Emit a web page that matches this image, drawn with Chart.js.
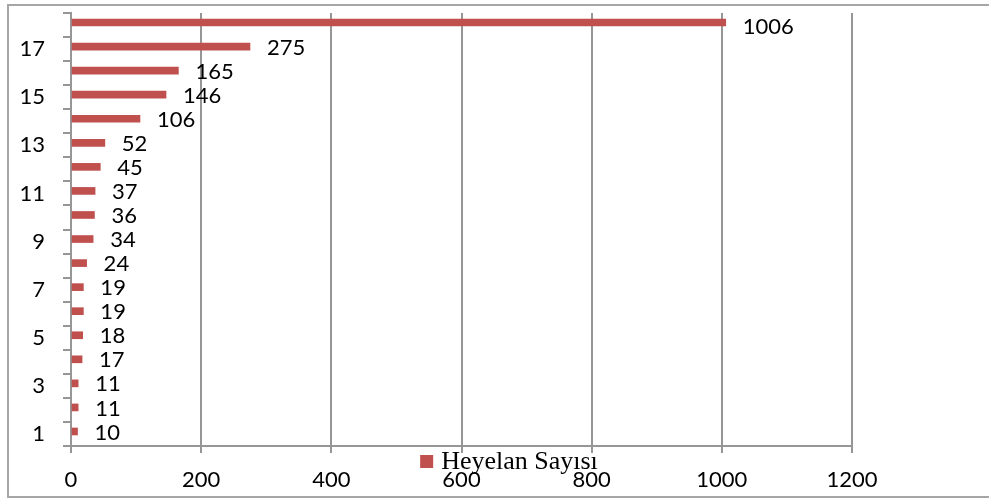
<!DOCTYPE html>
<html>
<head>
<meta charset="utf-8">
<script src="https://cdn.jsdelivr.net/npm/chart.js@4/dist/chart.umd.min.js"></script>
<style>
  html, body { margin: 0; padding: 0; background: #fff; }
  canvas { display: block; }
</style>
</head>
<body>
<canvas id="c" width="989" height="500"></canvas>
<script>
// Landslide counts per class (1..18)
const categories = ['1','2','3','4','5','6','7','8','9','10','11','12','13','14','15','16','17','18'];
const heyelanSayisi = [10, 11, 11, 17, 18, 19, 19, 24, 34, 36, 37, 45, 52, 106, 146, 165, 275, 1006];
const seriesName = 'Heyelan Sayısı';
const xTicks = [0, 200, 400, 600, 800, 1000, 1200];

const BAR_COLOR = '#C0504D';
const GRID_COLOR = '#969696';
const LABEL_FONT = { family: 'Lato, "Open Sans", sans-serif', size: 22 };

// Outer frame around the whole chart
const framePlugin = {
  id: 'frame',
  beforeDraw(chart) {
    const ctx = chart.ctx;
    ctx.save();
    ctx.fillStyle = '#fff';
    ctx.fillRect(0, 0, chart.width, chart.height);
    ctx.strokeStyle = '#a6a6a6';
    ctx.lineWidth = 2;
    ctx.strokeRect(8, 5, chart.width + 10, chart.height - 8);
    ctx.restore();
  }
};

// Bars sit slightly above the middle of their category band
const barShift = {
  id: 'barShift',
  afterDatasetsUpdate(chart) {
    chart.getDatasetMeta(0).data.forEach(el => { el.y -= 2.5; });
  }
};

// Value labels to the right of each bar, kept inside the plot area
const valueLabels = {
  id: 'valueLabels',
  afterDatasetsDraw(chart) {
    const ctx = chart.ctx;
    const meta = chart.getDatasetMeta(0);
    const halfBox = 14;
    ctx.save();
    ctx.font = `${LABEL_FONT.size}px ${LABEL_FONT.family}`;
    ctx.fillStyle = '#000';
    ctx.textAlign = 'left';
    ctx.textBaseline = 'middle';
    meta.data.forEach((el, i) => {
      const y = Math.max(el.y + 1, chart.chartArea.top + halfBox);
      ctx.fillText(String(heyelanSayisi[i]), el.x + 17, y);
    });
    ctx.restore();
  }
};

// Legend entry drawn over the bottom axis area
const legendEntry = {
  id: 'legendEntry',
  afterDraw(chart) {
    const ctx = chart.ctx;
    ctx.save();
    ctx.font = '26px "Liberation Serif", "DejaVu Serif", serif';
    const tw = ctx.measureText(seriesName).width;
    const box = 13, gap = 8;
    const total = box + gap + tw;
    const x0 = 509 - total / 2;
    const baseline = 469;
    ctx.fillStyle = BAR_COLOR;
    ctx.fillRect(x0, baseline - 14, box, box);
    ctx.fillStyle = '#000';
    ctx.textAlign = 'left';
    ctx.textBaseline = 'alphabetic';
    ctx.fillText(seriesName, x0 + box + gap, baseline);
    ctx.restore();
  }
};

new Chart(document.getElementById('c'), {
  type: 'bar',
  data: {
    labels: categories,
    datasets: [{
      label: seriesName,
      data: heyelanSayisi,
      backgroundColor: BAR_COLOR,
      borderWidth: 0,
      barThickness: 7
    }]
  },
  options: {
    indexAxis: 'y',
    responsive: false,
    animation: false,
    devicePixelRatio: 1,
    layout: { padding: { left: 0, top: 13, right: 137, bottom: 0 } },
    plugins: {
      legend: { display: false },
      tooltip: { enabled: false }
    },
    scales: {
      x: {
        min: 0,
        max: 1200,
        afterFit(scale) {
          scale.height = 54;
          scale.paddingLeft = 0;
          scale.paddingRight = 0;
        },
        afterBuildTicks(scale) { scale.ticks = xTicks.map(v => ({ value: v })); },
        grid: {
          color: GRID_COLOR,
          lineWidth: 2,
          drawOnChartArea: true,
          drawTicks: true,
          tickLength: 7,
          tickColor: GRID_COLOR
        },
        border: { display: true, color: GRID_COLOR, width: 2 },
        ticks: {
          color: '#000',
          font: LABEL_FONT,
          padding: 14,
          maxRotation: 0,
          callback(value) { return String(value); }
        }
      },
      y: {
        reverse: true,
        afterFit(scale) {
          scale.width = 71;
          scale.paddingTop = 0;
          scale.paddingBottom = 0;
        },
        grid: {
          display: true,
          offset: true,
          drawOnChartArea: false,
          drawTicks: true,
          tickLength: 8,
          color: GRID_COLOR,
          lineWidth: 2
        },
        border: { display: true, color: GRID_COLOR, width: 2 },
        ticks: {
          autoSkip: false,
          color: '#000',
          font: LABEL_FONT,
          padding: 18,
          callback(value, index) {
            const lab = categories[index];
            return Number(lab) % 2 === 1 ? lab : '';
          }
        }
      }
    }
  },
  plugins: [framePlugin, barShift, valueLabels, legendEntry]
});
</script>
</body>
</html>
